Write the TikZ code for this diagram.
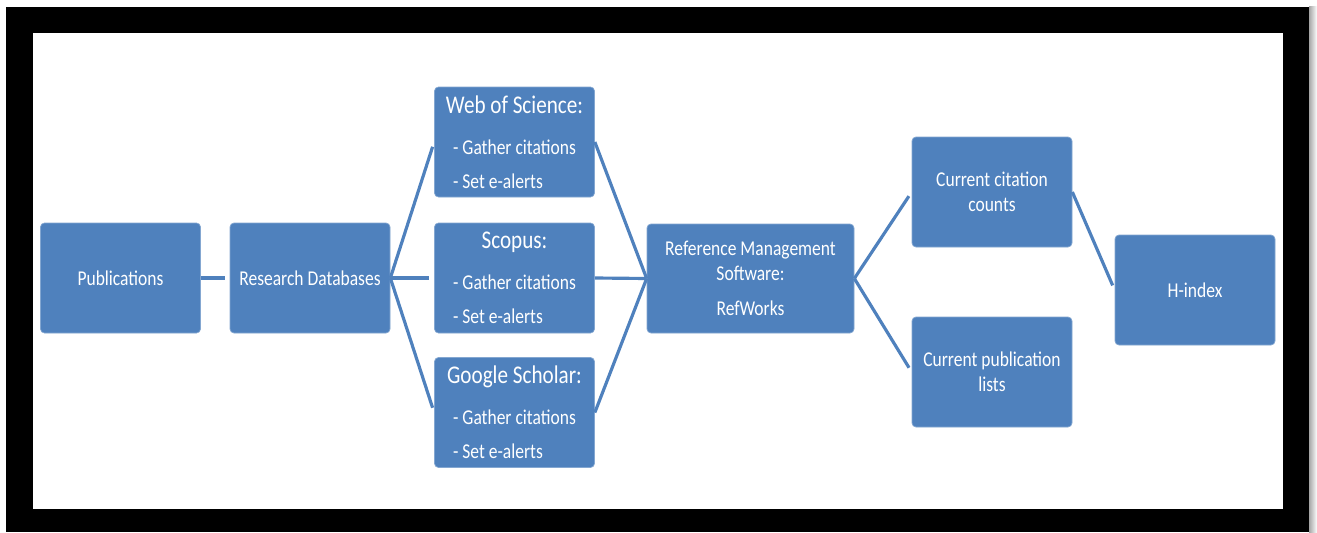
\documentclass[tikz,border=0pt]{standalone}
\usepackage{fontspec}
\setmainfont[FakeStretch=0.83]{Carlito}
\usepackage{tikz}
\usetikzlibrary{calc, positioning}
\usepackage{xcolor}
\definecolor{boxblue}{HTML}{4F81BD}
\newcommand{\dbname}[1]{{\fontsize{14.5}{17}\selectfont #1}}
\newcommand{\dbtasks}{- Gather citations\\[5pt]\rlap{- Set e-alerts}\phantom{- Gather citations}}

\begin{document}
\begin{tikzpicture}[
            every node/.style={draw=boxblue!70!white, fill=boxblue, text=white, rounded corners=0.08cm,
                minimum width=3.2cm, minimum height=2.2cm, inner sep=0mm, align=center,
                font=\fontsize{12}{14.4}\selectfont},
            link/.style={draw=boxblue, line width=1.8pt},
            gap/.style={shorten >=0.1cm}
        ]
            \useasboundingbox (0, 0) rectangle (26.34, 10.64);
            % frame
            \fill[black] (0.12, 0) rectangle (26.18, 10.5);
            \fill[white] (0.66, 0.46) rectangle (25.66, 9.98);
            \shade[left color=gray!70, right color=white] (26.18, 0) rectangle (26.34, 10.5);
            \node (pub) at (2.41, 5.08) {Publications};
            \node (rd) at (6.2, 5.08) {Research Databases};
            \node (wos) at (10.29, 7.8) {\dbname{Web of Science:}\\[9pt]\dbtasks};
            \node (scopus) at (10.29, 5.08) {\dbname{Scopus:}\\[9pt]\dbtasks};
            \node (gs) at (10.29, 2.39) {\dbname{Google Scholar:}\\[9pt]\dbtasks};
            \node[minimum width=4.14cm, minimum height=2.18cm] (rm) at (15.01, 5.07) {Reference Management\\Software:\\[5.5pt]RefWorks};
            \node (cc) at (19.84, 6.8) {Current citation\\counts};
            \node (cpl) at (19.84, 3.2) {Current publication\\lists};
            \node (h) at (23.9, 4.84) {H-index};
            \path[link]
            (pub.east) edge[gap, line width=2.6pt] (rd.west)
            (rd.east) edge[gap] (wos.west)
            (rd.east) edge[gap] (scopus.west)
            (rd.east) edge[gap] (gs.west)
            (wos.east) edge (rm.west)
            (scopus.east) edge (rm.west)
            (gs.east) edge (rm.west)
            (rm.east) edge[gap] (cc.west)
            (rm.east) edge[gap] (cpl.west)
            (cc.east) edge[gap] (h.west)
            ;
        \end{tikzpicture}
\end{document}
